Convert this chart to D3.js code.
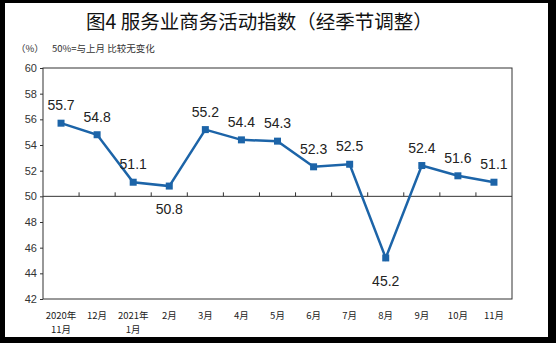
<!DOCTYPE html>
<html><head><meta charset="utf-8">
<script src="https://cdn.jsdelivr.net/npm/d3@7"></script>
<style>
html,body{margin:0;padding:0;background:#000;}
svg{display:block;}
</style></head>
<body>
<script>
const categories = [["2020年","11月"],["12月"],["2021年","1月"],["2月"],["3月"],["4月"],["5月"],["6月"],["7月"],["8月"],["9月"],["10月"],["11月"]];
const values = [55.7, 54.8, 51.1, 50.8, 55.2, 54.4, 54.3, 52.3, 52.5, 45.2, 52.4, 51.6, 51.1];
const yTicks = [42, 44, 46, 48, 50, 52, 54, 56, 58, 60];
const belowLabels = [3, 9];

(function () {
const W = 556, H = 343;
const svg = d3.select("body").append("svg").attr("width", W).attr("height", H);
svg.append("rect").attr("x", 0).attr("y", 0).attr("width", W).attr("height", H).attr("fill", "#000");
svg.append("rect").attr("x", 5).attr("y", 3).attr("width", 543).attr("height", 334).attr("fill", "#fff");

const pL = 43, pR = 512, pT = 68, pB = 299;
const x = d3.scaleBand().domain(d3.range(values.length)).range([pL, pR]);
const y = d3.scaleLinear().domain([42, 60]).range([pB, pT]);
const font = "'Liberation Sans', Arial, 'Noto Sans CJK SC', sans-serif";
const cjk = "'Noto Sans CJK SC', sans-serif";

// title
svg.append("text").attr("x", 86).attr("y", 29)
  .attr("font-family", cjk).attr("font-size", 19.5).attr("fill", "#111")
  .text("图4  服务业商务活动指数（经季节调整）");
svg.append("text").attr("x", 16).attr("y", 52).attr("font-family", cjk).attr("font-size", 9.5).attr("fill", "#333").text("（%）");
svg.append("text").attr("x", 52).attr("y", 52).attr("font-family", cjk).attr("font-size", 9.5).attr("fill", "#333").text("50%=与上月 比较无变化");

// frame
svg.append("rect").attr("x", pL).attr("y", pT).attr("width", pR - pL).attr("height", pB - pT)
  .attr("fill", "none").attr("stroke", "#333").attr("stroke-width", 1);

// y axis
const yAxis = svg.append("g").attr("transform", `translate(${pL},0)`)
  .call(d3.axisLeft(y).tickValues(yTicks).tickSize(3).tickFormat(d3.format("d")));
yAxis.select(".domain").remove();
yAxis.selectAll("line").attr("stroke", "#333");
yAxis.selectAll("text").attr("font-family", font).attr("font-size", 11).attr("fill", "#333").attr("x", -6);

// 50 baseline with x ticks
const xAxis = svg.append("g").attr("transform", `translate(0,${y(50)})`)
  .call(d3.axisTop(x).tickSize(4).tickFormat(""));
xAxis.select(".domain").attr("stroke", "#333").attr("d", `M${pL},0H${pR}`);
xAxis.selectAll(".tick line").attr("stroke", "#333")
  .attr("transform", `translate(${x.bandwidth()/2},0)`);
xAxis.selectAll(".tick").filter((d, i) => i === values.length - 1).remove();

// x labels
const cx = i => x(i) + x.bandwidth() / 2;
const xl = svg.append("g");
categories.forEach((lines, i) => {
  lines.forEach((t, j) => {
    xl.append("text").attr("x", cx(i)).attr("y", 319 + j * 14).attr("text-anchor", "middle")
      .attr("font-family", cjk).attr("font-size", 9.5).attr("fill", "#222").text(t);
  });
});

// line
const line = d3.line().x((d, i) => cx(i)).y(d => y(d));
svg.append("path").datum(values).attr("d", line).attr("fill", "none")
  .attr("stroke", "#1c64a8").attr("stroke-width", 2.5);
svg.selectAll(".pt").data(values).enter().append("rect").attr("class", "pt")
  .attr("x", (d, i) => cx(i) - 3.5).attr("y", d => y(d) - 3.5).attr("width", 7).attr("height", 7)
  .attr("fill", "#1c64a8");

// value labels
svg.selectAll(".vl").data(values).enter().append("text").attr("class", "vl")
  .attr("x", (d, i) => cx(i))
  .attr("y", (d, i) => belowLabels.includes(i) ? y(d) + 28 : y(d) - 13)
  .attr("text-anchor", "middle").attr("font-family", font).attr("font-size", 14).attr("fill", "#222")
  .text(d => d.toFixed(1));
})();
</script>
</body></html>
